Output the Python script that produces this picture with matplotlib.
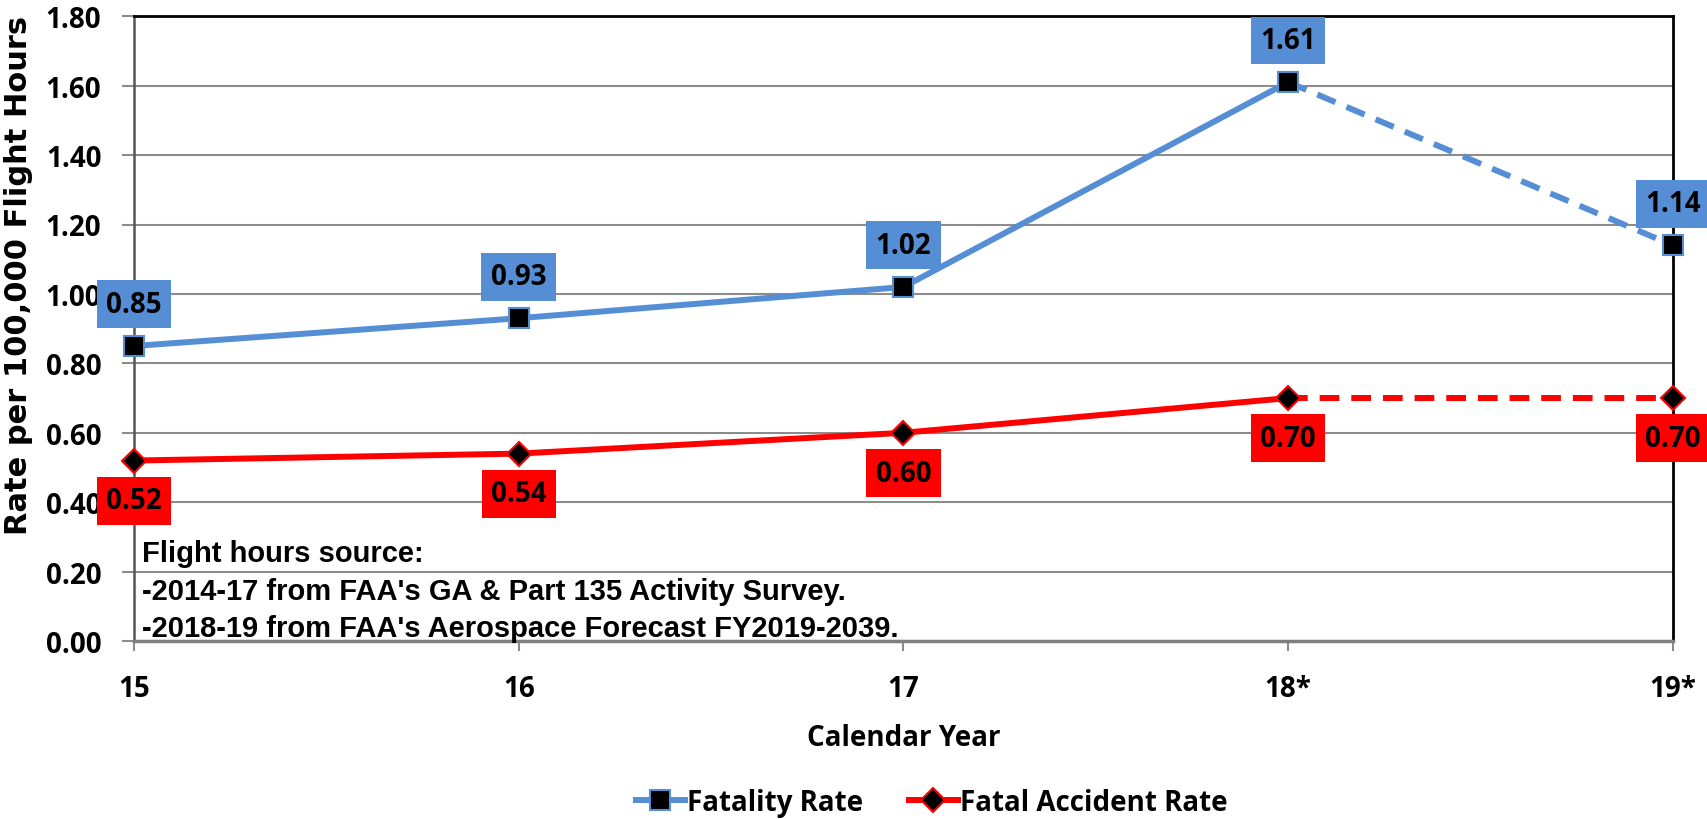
import matplotlib.pyplot as plt
from matplotlib.lines import Line2D

# values
years = [15, 16, 17, 18, 19]
year_labels = ["15", "16", "17", "18*", "19*"]
fatality_rate = [0.85, 0.93, 1.02, 1.61, 1.14]
fatal_accident_rate = [0.52, 0.54, 0.60, 0.70, 0.70]
y_ticks = [0.0, 0.2, 0.4, 0.6, 0.8, 1.0, 1.2, 1.4, 1.6, 1.8]

BLUE = "#558ED5"
RED = "#FF0000"
LABEL_FONT = "Open Sans"
LW = 4.3
DASH = (0, (3.3, 2.0))

fig = plt.figure(figsize=(17.07, 8.2), dpi=100)
ax = fig.add_axes([0.0785, 0.217, 0.9015, 0.762])

# solid part (actual years) and dashed part (estimates)
ax.plot(years[:4], fatality_rate[:4], color=BLUE, lw=LW, solid_capstyle="round", zorder=3)
ax.plot(years[3:], fatality_rate[3:], color=BLUE, lw=LW, ls=DASH, zorder=3)
ax.plot(years[:4], fatal_accident_rate[:4], color=RED, lw=LW, solid_capstyle="round", zorder=3)
ax.plot(years[3:], fatal_accident_rate[3:], color=RED, lw=LW, ls=DASH, zorder=3)

ax.plot(years, fatality_rate, ls="none", marker="s", ms=15, mfc="black", mec=BLUE,
        mew=1.5, zorder=4, clip_on=False)
ax.plot(years, fatal_accident_rate, ls="none", marker="D", ms=12, mfc="black", mec=RED,
        mew=1.5, zorder=4, clip_on=False)

for x, v in zip(years, fatality_rate):
    ax.annotate(f"{v:.2f}", (x, v), xytext=(0, 30), textcoords="offset points",
                ha="center", va="center", fontsize=20, fontweight="bold",
                family=LABEL_FONT, color="black", zorder=6, annotation_clip=False,
                bbox=dict(boxstyle="square,pad=0.34", fc=BLUE, ec="none"))
for x, v in zip(years, fatal_accident_rate):
    ax.annotate(f"{v:.2f}", (x, v), xytext=(0, -29), textcoords="offset points",
                ha="center", va="center", fontsize=20, fontweight="bold",
                family=LABEL_FONT, color="black", zorder=6, annotation_clip=False,
                bbox=dict(boxstyle="square,pad=0.34", fc=RED, ec="none"))

ax.set_xlim(15, 19)
ax.set_ylim(0, 1.8)
ax.set_xticks(years)
ax.set_xticklabels(year_labels)
ax.set_yticks(y_ticks)
ax.set_yticklabels([f"{t:.2f}" for t in y_ticks])
ax.grid(axis="y", color="#8c8c8c", lw=1.5, zorder=0)
ax.set_axisbelow(True)

ax.tick_params(axis="both", direction="out", length=8.5, width=1.5, color="#8c8c8c",
               labelsize=20)
ax.tick_params(axis="y", pad=15)
ax.tick_params(axis="x", length=7, pad=17)
for lab in ax.get_xticklabels() + ax.get_yticklabels():
    lab.set_fontweight("bold")
    lab.set_family(LABEL_FONT)

ax.spines["left"].set_color("#555555")
ax.spines["left"].set_linewidth(1.8)
ax.spines["bottom"].set_color("#7f7f7f")
ax.spines["bottom"].set_linewidth(2.5)
ax.spines["top"].set_color("black")
ax.spines["top"].set_linewidth(2)
ax.spines["right"].set_color("black")
ax.spines["right"].set_linewidth(2)

ax.set_xlabel("Calendar Year", fontsize=20, fontweight="bold", family=LABEL_FONT, labelpad=14)
ax.set_ylabel("Rate per 100,000 Flight Hours", fontsize=22, fontweight="bold",
              family="DejaVu Sans")
ax.yaxis.set_label_coords(-0.0656, 0.586)

note = ("Flight hours source:\n"
        "-2014-17 from FAA's GA & Part 135 Activity Survey.\n"
        "-2018-19 from FAA's Aerospace Forecast FY2019-2039.")
ax.text(0.0055, 0.163, note, transform=ax.transAxes, ha="left", va="top", fontsize=21,
        fontweight="bold", family="Liberation Sans", linespacing=1.43, zorder=5)

handles = [
    Line2D([], [], color=BLUE, lw=LW, marker="s", ms=15, mfc="black", mec=BLUE, mew=1.5),
    Line2D([], [], color=RED, lw=LW, marker="D", ms=12, mfc="black", mec=RED, mew=1.5),
]
fig.legend(handles, ["Fatality Rate", "Fatal Accident Rate"], loc="center",
           bbox_to_anchor=(0.546, 0.0207), ncol=2, frameon=False, handlelength=1.75,
           handletextpad=0.1, columnspacing=1.64,
           prop={"family": LABEL_FONT, "weight": "bold", "size": 20})

fig.savefig("out.png", dpi=100)
